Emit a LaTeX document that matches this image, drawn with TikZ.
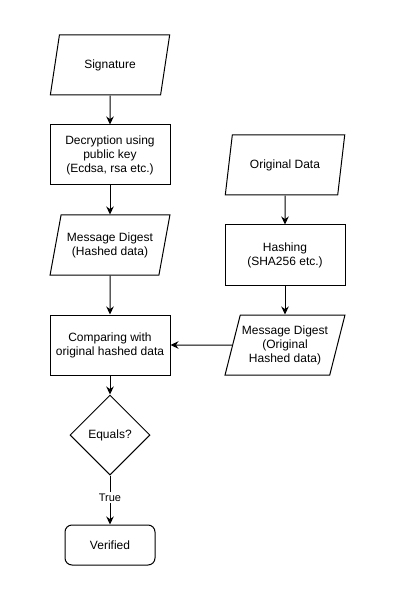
\documentclass[tikz,border=0pt]{standalone}
\usepackage{fontspec}
\setmainfont{Liberation Sans}
\usetikzlibrary{arrows.meta, positioning, shapes.geometric}

\begin{document}
\begin{tikzpicture}[
    x=1pt, y=-1pt,
    >={Stealth[length=8pt, width=7.5pt]},
    every node/.style={font=\fontsize{12}{14}\selectfont},
    process/.style={
        draw,
        line width=1pt,
        minimum width=120pt,
        minimum height=60pt,
        align=center,
        inner sep=2pt
    },
    data/.style={
        draw,
        line width=1pt,
        trapezium,
        trapezium left angle=70,
        trapezium right angle=110,
        trapezium stretches=true,
        minimum width=120pt,
        minimum height=60pt,
        align=center,
        inner sep=1pt
    },
    decision/.style={
        draw,
        line width=1pt,
        diamond,
        aspect=1,
        minimum width=80pt,
        minimum height=80pt,
        inner sep=1pt
    },
    terminal/.style={
        draw,
        line width=1pt,
        rounded corners=7pt,
        minimum width=90pt,
        minimum height=40pt
    },
    arrow label/.style={
        font=\fontsize{11}{12}\selectfont,
        fill=white,
        inner sep=1.5pt
    }
]
\useasboundingbox[fill=white] (0,0) rectangle (400,601);

% Left column: signature side
\node[data] (signature) at (110,65) {Signature};
\node[process] (decrypt) at (110,155) {Decryption using\\public key\\(Ecdsa, rsa etc.)};
\node[data] (digest) at (110,245) {Message Digest\\(Hashed data)};
\node[process] (compare) at (110,345) {Comparing with\\original hashed data};
\node[decision] (equals) at (110,435) {Equals?};
\node[terminal] (verified) at (110,545) {Verified};

% Right column: original data side
\node[data] (original) at (285,165) {Original Data};
\node[process] (hashing) at (285,255) {Hashing\\(SHA256 etc.)};
\node[data] (origdigest) at (285,345) {Message Digest\\(Original\\Hashed data)};

% Arrows
\draw[->, line width=1pt] (signature) -- (decrypt);
\draw[->, line width=1pt] (decrypt) -- (digest);
\draw[->, line width=1pt] (digest) -- (compare);
\draw[->, line width=1pt] (compare) -- (equals);
\draw[->, line width=1pt] (equals) -- (verified)
    node[arrow label, pos=0.45] {True};
\draw[->, line width=1pt] (original) -- (hashing);
\draw[->, line width=1pt] (hashing) -- (origdigest);
\draw[->, line width=1pt] (origdigest) -- (compare);

\end{tikzpicture}
\end{document}
